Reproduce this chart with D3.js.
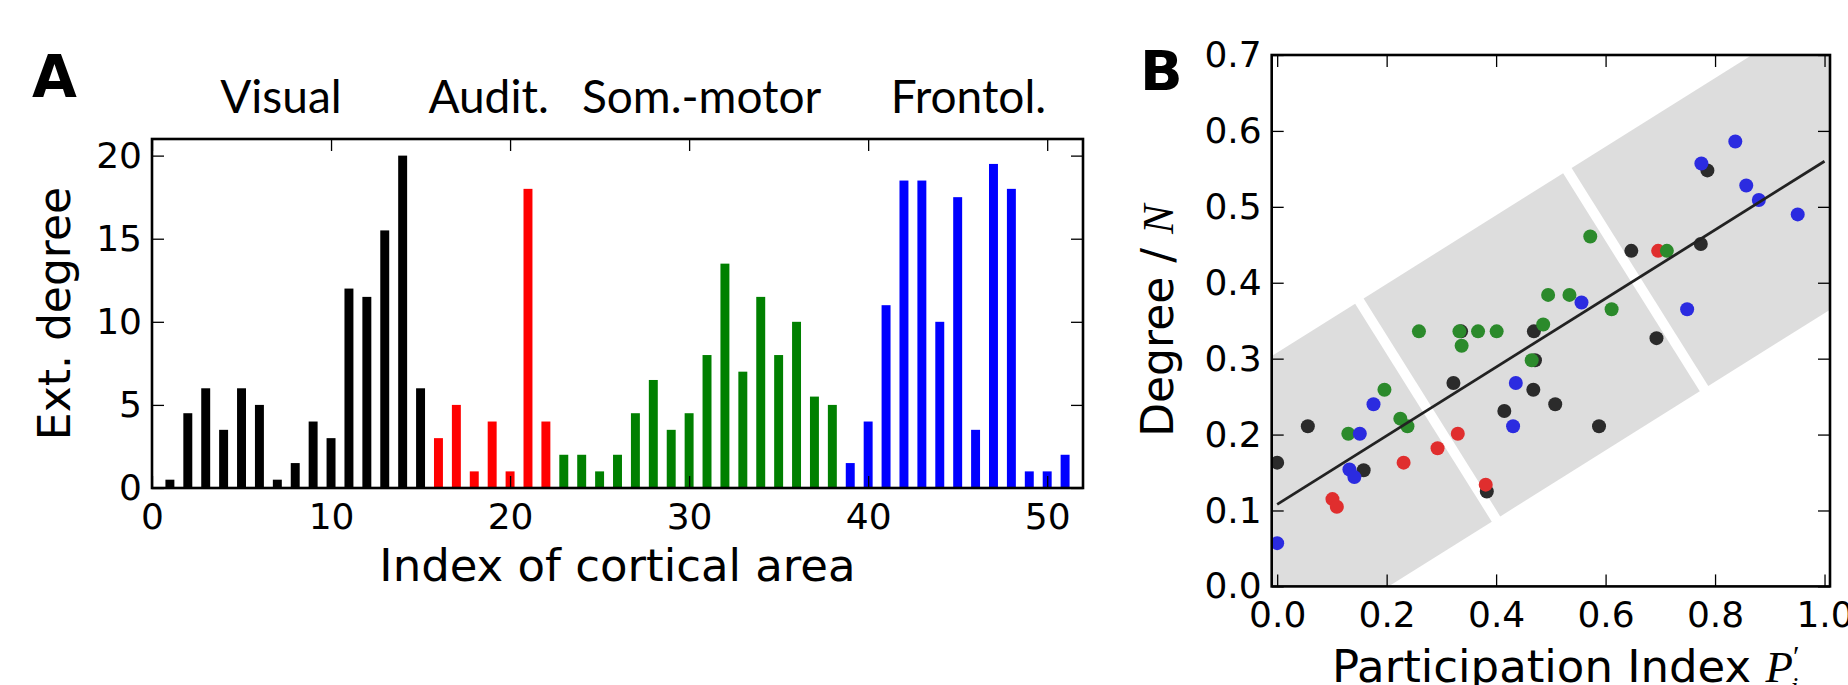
<!DOCTYPE html>
<html>
<head>
<meta charset="utf-8">
<script src="https://cdn.jsdelivr.net/npm/d3@7"></script>
<style>
  body { margin: 0; background: #fff; }
  svg { display: block; }
</style>
</head>
<body>
<script>
// ---- panel A data: external degree of each cortical area (index 1..51)
const extDegree = [
  0.5, 4.5, 6, 3.5, 6, 5, 0.5, 1.5, 4, 3, 12, 11.5, 15.5, 20, 6,
  3, 5, 1, 4, 1, 18, 4,
  2, 2, 1, 2, 4.5, 6.5, 3.5, 4.5, 8, 13.5, 7, 11.5, 8, 10, 5.5, 5,
  1.5, 4, 11, 18.5, 18.5, 10, 17.5, 3.5, 19.5, 18, 1, 1, 2
];
const groupNames = ["Visual", "Audit.", "Som.-motor", "Frontol."];
const groupSizes = [15, 7, 16, 13];
const barColors = ["#000000", "#ff0000", "#008000", "#0000ff"];
const groupLabelAt = [7.2, 18.8, 30.7, 45.6];   // x position of the group titles (area index)
const xTicksA = [0, 10, 20, 30, 40, 50];
const yTicksA = [0, 5, 10, 15, 20];

// ---- panel B data: [participation index, degree / N]
const visualPts = [
  [0.000, 0.163], [0.056, 0.211], [0.158, 0.153], [0.322, 0.268], [0.383, 0.125],
  [0.336, 0.336], [0.415, 0.231], [0.468, 0.259], [0.469, 0.336], [0.471, 0.298],
  [0.508, 0.240], [0.588, 0.211], [0.693, 0.327], [0.647, 0.442], [0.774, 0.451],
  [0.786, 0.548]
];
const auditPts = [
  [0.101, 0.115], [0.109, 0.105], [0.231, 0.163], [0.293, 0.182], [0.330, 0.201],
  [0.381, 0.134], [0.696, 0.442]
];
const somPts = [
  [0.130, 0.201], [0.196, 0.259], [0.225, 0.221], [0.238, 0.211], [0.259, 0.336],
  [0.333, 0.336], [0.337, 0.317], [0.367, 0.336], [0.401, 0.336], [0.465, 0.298],
  [0.486, 0.345], [0.495, 0.384], [0.534, 0.384], [0.572, 0.461], [0.611, 0.365],
  [0.712, 0.442]
];
const frontPts = [
  [0.000, 0.057], [0.132, 0.154], [0.141, 0.144], [0.151, 0.201], [0.176, 0.240],
  [0.431, 0.211], [0.436, 0.268], [0.556, 0.374], [0.749, 0.365], [0.775, 0.557],
  [0.837, 0.586], [0.857, 0.528], [0.880, 0.509], [0.951, 0.490]
];
const dotColors = ["#2b2b2b", "#e02e2e", "#2b8a2b", "#2b2be0"];
const fitIntercept = 0.108;
const fitSlope = 0.452;
const bandHalf = 0.2;                       // half height of the grey band (degree / N)
const bandCuts = [-0.5, 0.275, 0.655, 1.5]; // where the band is split (participation)
const xTicksB = [0, 0.2, 0.4, 0.6, 0.8, 1.0];
const yTicksB = [0, 0.1, 0.2, 0.3, 0.4, 0.5, 0.6, 0.7];

const width = 1848, height = 685;
const sansFont = "DejaVu Sans, Verdana, sans-serif";
const tickFont = 36;
const tickLen = 12;

const svg = d3.select("body").append("svg")
  .attr("width", width)
  .attr("height", height);

// inward ticks on all four sides, labels only bottom / left
const drawAxes = (g, x, y, xt, yt, fmtX, fmtY, box, xPad, yPad) => {
  const [l, r, t, b] = box;
  g.append("g").attr("transform", `translate(0,${b})`)
    .call(d3.axisBottom(x).tickValues(xt).tickFormat(fmtX).tickSizeInner(-tickLen).tickSizeOuter(0).tickPadding(xPad));
  g.append("g").attr("transform", `translate(0,${t})`)
    .call(d3.axisTop(x).tickValues(xt).tickFormat("").tickSizeInner(-tickLen).tickSizeOuter(0));
  g.append("g").attr("transform", `translate(${l},0)`)
    .call(d3.axisLeft(y).tickValues(yt).tickFormat(fmtY).tickSizeInner(-tickLen).tickSizeOuter(0).tickPadding(yPad));
  g.append("g").attr("transform", `translate(${r},0)`)
    .call(d3.axisRight(y).tickValues(yt).tickFormat("").tickSizeInner(-tickLen).tickSizeOuter(0));
  g.selectAll(".domain").remove();
  g.selectAll(".tick line").attr("stroke", "#000").attr("stroke-width", 1.3);
  g.selectAll(".tick text")
    .attr("font-family", sansFont)
    .attr("font-size", tickFont)
    .attr("fill", "#000");
  g.append("rect")
    .attr("x", l).attr("y", t)
    .attr("width", r - l).attr("height", b - t)
    .attr("fill", "none")
    .attr("stroke", "#000")
    .attr("stroke-width", 2.6);
};

// ================= panel A =================
const boxA = [152, 1083, 139, 488];
const xA = d3.scaleLinear().domain([0, 52]).range([boxA[0], boxA[1]]);
const yA = d3.scaleLinear().domain([0, 21]).range([boxA[3], boxA[2]]);

const groupOf = [];
groupSizes.forEach((n, gi) => { for (let k = 0; k < n; k++) groupOf.push(gi); });

const gA = svg.append("g").attr("id", "panel-a");
const barW = xA(0.5) - xA(0);

gA.append("g")
  .selectAll("rect")
  .data(extDegree)
  .join("rect")
  .attr("x", (d, i) => xA(i + 1) - barW / 2)
  .attr("y", d => yA(d))
  .attr("width", barW)
  .attr("height", d => yA(0) - yA(d))
  .attr("fill", (d, i) => barColors[groupOf[i]]);

drawAxes(gA, xA, yA, xTicksA, yTicksA, d3.format("d"), d3.format("d"), boxA, 15, 10);

gA.selectAll(".group-title")
  .data(groupNames)
  .join("text")
  .attr("class", "group-title")
  .attr("x", (d, i) => xA(groupLabelAt[i]))
  .attr("y", 113)
  .attr("text-anchor", "middle")
  .attr("font-family", "Lato, 'Open Sans', sans-serif")
  .attr("font-size", 46)
  .text(d => d);

gA.append("text")
  .attr("x", (boxA[0] + boxA[1]) / 2)
  .attr("y", 581)
  .attr("text-anchor", "middle")
  .attr("font-family", sansFont)
  .attr("font-size", 45)
  .text("Index of cortical area");

gA.append("text")
  .attr("transform", `translate(70,${(boxA[2] + boxA[3]) / 2}) rotate(-90)`)
  .attr("text-anchor", "middle")
  .attr("font-family", sansFont)
  .attr("font-size", 44)
  .text("Ext. degree");

gA.append("text")
  .attr("x", 32)
  .attr("y", 97)
  .attr("font-family", sansFont)
  .attr("font-weight", "bold")
  .attr("font-size", 58)
  .text("A");

// ================= panel B =================
const boxB = [1271.7, 1830, 55, 586.4];
const xB = d3.scaleLinear().domain([-0.01, 1.01]).range([boxB[0], boxB[1]]);
const yB = d3.scaleLinear().domain([0, 0.7]).range([boxB[3], boxB[2]]);

const gB = svg.append("g").attr("id", "panel-b");

gB.append("clipPath").attr("id", "clip-b")
  .append("rect")
  .attr("x", boxB[0]).attr("y", boxB[2])
  .attr("width", boxB[1] - boxB[0]).attr("height", boxB[3] - boxB[2]);

// grey band round the fit, cut in three pieces perpendicular to the line
const fitPt = x => [xB(x), yB(fitIntercept + fitSlope * x)];
const a0 = fitPt(0), a1 = fitPt(1);
const len = Math.hypot(a1[0] - a0[0], a1[1] - a0[1]);
const dir = [(a1[0] - a0[0]) / len, (a1[1] - a0[1]) / len];
const nrm = [-dir[1], dir[0]];
const halfW = (yB(0) - yB(bandHalf)) * Math.abs(dir[0]);
const gap = 10;

const bandPolys = d3.range(bandCuts.length - 1).map(i => {
  const s = fitPt(bandCuts[i]), e = fitPt(bandCuts[i + 1]);
  const s2 = [s[0] + dir[0] * gap / 2, s[1] + dir[1] * gap / 2];
  const e2 = [e[0] - dir[0] * gap / 2, e[1] - dir[1] * gap / 2];
  return [
    [s2[0] + nrm[0] * halfW, s2[1] + nrm[1] * halfW],
    [e2[0] + nrm[0] * halfW, e2[1] + nrm[1] * halfW],
    [e2[0] - nrm[0] * halfW, e2[1] - nrm[1] * halfW],
    [s2[0] - nrm[0] * halfW, s2[1] - nrm[1] * halfW]
  ];
});

const inner = gB.append("g").attr("clip-path", "url(#clip-b)");

inner.selectAll("polygon")
  .data(bandPolys)
  .join("polygon")
  .attr("points", d => d.map(p => p.join(",")).join(" "))
  .attr("fill", "#dddddd");

const groups = [visualPts, auditPts, somPts, frontPts];
groups.forEach((pts, gi) => {
  inner.append("g")
    .selectAll("circle")
    .data(pts)
    .join("circle")
    .attr("cx", d => xB(d[0]))
    .attr("cy", d => yB(d[1]))
    .attr("r", 7)
    .attr("fill", dotColors[gi]);
});

const fitLine = d3.line()
  .x(d => xB(d))
  .y(d => yB(fitIntercept + fitSlope * d));

inner.append("path")
  .attr("d", fitLine([0, 1]))
  .attr("fill", "none")
  .attr("stroke", "#222")
  .attr("stroke-width", 2.8);

drawAxes(gB, xB, yB, xTicksB, yTicksB, d3.format(".1f"), d3.format(".1f"), boxB, 15, 10);

const xlab = gB.append("text")
  .attr("x", 1332)
  .attr("y", 682)
  .attr("font-family", sansFont)
  .attr("font-size", 45);
xlab.append("tspan").text("Participation Index ");
xlab.append("tspan")
  .attr("font-family", "'Liberation Serif', 'DejaVu Serif', serif")
  .attr("font-style", "italic")
  .text("P");
xlab.append("tspan")
  .attr("font-family", "'Liberation Serif', 'DejaVu Serif', serif")
  .attr("font-size", 30)
  .attr("dy", -16)
  .text("′");
xlab.append("tspan")
  .attr("font-family", "'Liberation Serif', 'DejaVu Serif', serif")
  .attr("font-style", "italic")
  .attr("font-size", 28)
  .attr("dx", -9)
  .attr("dy", 30)
  .text("i");

const ylab = gB.append("text")
  .attr("transform", `translate(1173,${(boxB[2] + boxB[3]) / 2}) rotate(-90)`)
  .attr("text-anchor", "middle")
  .attr("font-family", sansFont)
  .attr("font-size", 44);
ylab.append("tspan").text("Degree / ");
ylab.append("tspan")
  .attr("font-family", "'Liberation Serif', 'DejaVu Serif', serif")
  .attr("font-style", "italic")
  .text("N");

gB.append("text")
  .attr("x", 1140)
  .attr("y", 90)
  .attr("font-family", sansFont)
  .attr("font-weight", "bold")
  .attr("font-size", 56)
  .text("B");
</script>
</body>
</html>
